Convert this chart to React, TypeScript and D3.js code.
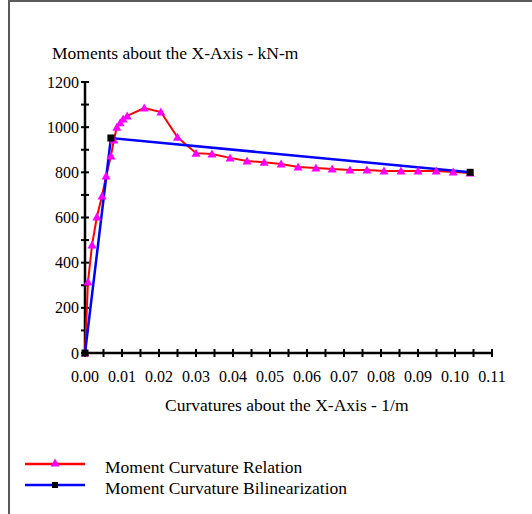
import React from "react";
import * as d3 from "d3";

const relationX = [0, 0.0008, 0.0019, 0.0032, 0.0046, 0.0057, 0.007, 0.0078, 0.0086, 0.0095, 0.0103, 0.0114, 0.016, 0.0205, 0.025, 0.03, 0.0343, 0.0392, 0.0438, 0.0484, 0.053, 0.0576, 0.0624, 0.0668, 0.0716, 0.0762, 0.0808, 0.0854, 0.09, 0.0949, 0.0995, 0.1041];
const relationM = [0, 314, 478, 602, 695, 784, 872, 943, 1000, 1020, 1036, 1050, 1085, 1067, 955, 885, 881, 864, 850, 845, 837, 824, 819, 815, 810, 810, 806, 806, 806, 806, 801, 797];
const bilinX = [0, 0.007, 0.1041];
const bilinM = [0, 952, 800];
const xTickLabels = ["0.00", "0.01", "0.02", "0.03", "0.04", "0.05", "0.06", "0.07", "0.08", "0.09", "0.10", "0.11"];
const yTickValues = [0, 200, 400, 600, 800, 1000, 1200];
const legendLabels = ["Moment Curvature Relation", "Moment Curvature Bilinearization"];

const W = 532;
const H = 514;
const FONT = "'Liberation Serif', 'Times New Roman', serif";

export default function App() {
  const x = d3.scaleLinear().domain([0, 0.11]).range([85, 492]);
  const y = d3.scaleLinear().domain([0, 1200]).range([353, 82]);
  const relation = relationX.map((v, i) => [v, relationM[i]] as [number, number]);
  const bilin = bilinX.map((v, i) => [v, bilinM[i]] as [number, number]);
  const line = d3.line<[number, number]>().x((d) => x(d[0])).y((d) => y(d[1]));
  const minorX = d3.range(0, 23).map((i) => i * 0.005);
  const minorY = d3.range(0, 13).map((i) => i * 100);
  const tri = (cx: number, cy: number) =>
    `M${cx},${cy - 4.5}L${cx + 4.5},${cy + 3.5}L${cx - 4.5},${cy + 3.5}Z`;

  return (
    <svg width={W} height={H} style={{ position: "absolute", left: 0, top: 0, background: "#fff" }}>
      <rect x={0} y={0} width={W} height={H} fill="#fff" />
      <line x1={9} y1={0} x2={9} y2={H} stroke="#5a5a5a" strokeWidth={2} />
      <line x1={9} y1={1} x2={W} y2={1} stroke="#5a5a5a" strokeWidth={2} />
      <text x={52} y={59} fontFamily={FONT} fontSize={17.5} fill="#000">Moments about the X-Axis - kN-m</text>
      {/* y axis */}
      <line x1={x(0)} y1={y(0)} x2={x(0)} y2={y(1200)} stroke="#000" strokeWidth={2.5} />
      {minorY.map((v) => (
        <line key={"yt" + v} x1={x(0) - 4} x2={x(0) + 4} y1={y(v)} y2={y(v)} stroke="#000" strokeWidth={2} />
      ))}
      {yTickValues.map((v) => (
        <text key={"yl" + v} x={79} y={y(v) + 5.5} textAnchor="end" fontFamily={FONT} fontSize={16} fill="#000">{v}</text>
      ))}
      {/* x axis */}
      <line x1={x(0)} y1={y(0)} x2={x(0.11)} y2={y(0)} stroke="#000" strokeWidth={2.5} />
      {minorX.map((v, i) => (
        <line key={"xt" + i} x1={x(v)} x2={x(v)} y1={y(0) - 4} y2={y(0) + 4} stroke="#000" strokeWidth={2} />
      ))}
      {xTickLabels.map((t, i) => (
        <text key={"xl" + i} x={x(i * 0.01)} y={382} textAnchor="middle" fontFamily={FONT} fontSize={16} fill="#000">{t}</text>
      ))}
      <text x={165} y={411} fontFamily={FONT} fontSize={17.5} fill="#000">Curvatures about the X-Axis - 1/m</text>
      {/* series */}
      <path d={line(relation) ?? ""} fill="none" stroke="#ff0000" strokeWidth={2} />
      <path d={line(bilin) ?? ""} fill="none" stroke="#0000ff" strokeWidth={2.5} />
      {relation.map((d, i) => (
        <path key={"m" + i} d={tri(x(d[0]), y(d[1]))} fill="#ff00ff" />
      ))}
      {bilin.map((d, i) => (
        <rect key={"s" + i} x={x(d[0]) - 3.5} y={y(d[1]) - 3.5} width={7} height={7} fill="#000" />
      ))}
      {/* legend */}
      <line x1={25} x2={85} y1={464} y2={464} stroke="#ff0000" strokeWidth={2.5} />
      <path d={tri(55, 463)} fill="#ff00ff" />
      <line x1={25} x2={85} y1={485} y2={485} stroke="#0000ff" strokeWidth={2.5} />
      <rect x={52} y={482} width={6} height={6} fill="#000" />
      <text x={105} y={473} fontFamily={FONT} fontSize={17.5} fill="#000">{legendLabels[0]}</text>
      <text x={105} y={494} fontFamily={FONT} fontSize={17.5} fill="#000">{legendLabels[1]}</text>
    </svg>
  );
}
